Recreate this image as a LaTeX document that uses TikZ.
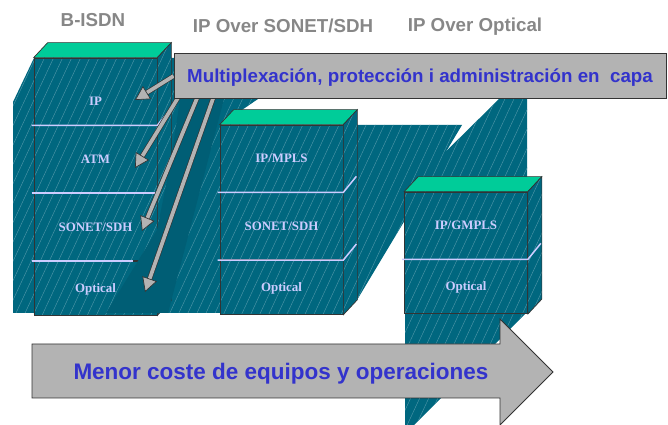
\documentclass[tikz,border=0pt]{standalone}
\usepackage{fontspec}
\setmainfont{Liberation Serif}
\newfontfamily\arialfont{Liberation Sans}
\usepackage{tikz}
\usetikzlibrary{arrows.meta, positioning, calc, patterns.meta}
\definecolor{StackTeal}{HTML}{00677F}
\definecolor{ShadeTeal}{HTML}{005E75}
\definecolor{StripeTeal}{HTML}{5298AA}
\definecolor{TopGreen}{HTML}{00CC99}
\definecolor{Lavender}{HTML}{CCCCFF}
\definecolor{BoxGray}{HTML}{B3B3B3}
\definecolor{EdgeGray}{HTML}{333333}
\definecolor{TitleGray}{HTML}{878787}
\definecolor{TextBlue}{HTML}{3333CC}
\tikzset{
  hatched/.style={preaction={fill=StackTeal}, pattern={Lines[angle=65, distance=7pt, line width=0.35pt]}, pattern color=StripeTeal},
  layerbox/.style={rectangle, hatched, draw=EdgeGray, line width=0.6pt, minimum width=36.9mm, minimum height=20.1mm, inner sep=0pt, text=Lavender, font=\bfseries\fontsize{11}{12}\selectfont, text height=7.3pt, text depth=0pt},
  opticalbox/.style={layerbox, minimum height=16.2mm},
  topface/.style={fill=TopGreen, draw=EdgeGray, line width=0.6pt},
  sideface/.style={hatched, draw=EdgeGray, line width=0.6pt},
  divider/.style={draw=Lavender, line width=1.3pt},
  banner/.style={rectangle, draw=EdgeGray, line width=0.7pt, fill=BoxGray, minimum width=147.6mm, minimum height=13.5mm, text=TextBlue, font=\arialfont\bfseries\fontsize{16}{19}\selectfont, text height=11.5pt, text depth=0pt},
  pointer/.style={draw=EdgeGray, double=BoxGray, double distance=3.2pt, line width=0.55pt, -{Triangle[length=12pt, width=13pt, fill=BoxGray]}},
  bigarrow/.style={fill=BoxGray, draw=EdgeGray, line width=0.7pt},
  costtext/.style={text=TextBlue, font=\arialfont\bfseries\fontsize{19.2}{23}\selectfont, text height=13.8pt, text depth=0pt, inner sep=0pt},
  title/.style={text=TitleGray, font=\arialfont\bfseries\fontsize{16}{19}\selectfont, anchor=base, inner sep=0pt}
}
\begin{document}
\begin{tikzpicture}[x=0.3mm, y=-0.3mm]
  \useasboundingbox (0,0) rectangle (668,425);

  % teal bands behind the stacks
  \path[hatched] (13,313) -- (13,102) -- (34,58) -- (175,58) -- (175,99) -- (258,99) -- (220,125) -- (220,313) -- cycle;
  \path[hatched] (357,125) -- (462,125) -- (357,300) -- cycle;
  \path[hatched] (499,99) -- (527,99) -- (527,312) -- (414,425) -- (405,425) -- (405,192) -- (420,177) -- cycle;

  % B-ISDN stack
  \node[layerbox] (ip1) at (95.5,91.5) {\raisebox{-3mm}{IP}};
  \node[layerbox, below=0pt of ip1] (atm1) {ATM};
  \node[layerbox, below=0pt of atm1] (sdh1) {SONET/SDH};
  \node[opticalbox, below=0pt of sdh1] (opt1) {Optical};

  % IP over SONET/SDH stack
  \node[layerbox] (mpls2) at (281.5,158.5) {IP/MPLS};
  \node[layerbox, below=0pt of mpls2] (sdh2) {SONET/SDH};
  \node[opticalbox, below=0pt of sdh2] (opt2) {Optical};

  % IP over optical stack
  \node[layerbox] (gmpls3) at (466,225.5) {IP/GMPLS};
  \node[opticalbox, below=0pt of gmpls3] (opt3) {Optical};

  \foreach \t/\b in {ip1/opt1, mpls2/opt2, gmpls3/opt3} {
    \draw[topface] (\t.north west) -- ++(14,-15) -- ($(\t.north east)+(14,-15)$) -- (\t.north east) -- cycle;
    \draw[sideface] (\t.north east) -- ++(14,-15) -- ($(\b.south east)+(14,-15)$) -- (\b.south east) -- cycle;
  }

  % layer borders
  \draw[divider] ($(ip1.south west)+(-2,0)$) -- (ip1.south east) -- ++(12,-15);
  \draw[divider] ($(atm1.south west)+(-2,0)$) -- (atm1.south east);
  \draw[divider] ($(sdh1.south west)+(-2,0)$) -- ($(sdh1.south east)+(-24,0)$);
  \foreach \n in {mpls2, sdh2, gmpls3}
    \draw[divider] ($(\n.south west)+(-2,0)$) -- (\n.south east) -- ++(13,-16);

  % shadow under the pointers
  \fill[ShadeTeal] (106,313) -- (157,230) -- (171,160) -- (180,99) -- (224,99) -- (168,313) -- cycle;

  \coordinate (pIP) at (135,100);
  \coordinate (pATM) at (135,168);
  \coordinate (pSDH) at (142,231);
  \coordinate (pOpt) at (145,292);

  \node[banner] (banner) at (420,76) {};
  \draw[pointer] (banner.west) -- (pIP);
  \draw[pointer] ($(banner.south west)+(5,-2)$) -- (pATM);
  \draw[pointer] ($(banner.south west)+(24,-2)$) -- (pSDH);
  \draw[pointer] ($(banner.south west)+(40,-2)$) -- (pOpt);
  \node[banner] at (banner) {Multiplexación, protección i administración en~~capa};

  % cost arrow
  \draw[bigarrow] (32,344) -- (500,344) -- (500,319) -- (553,372) -- (500,425) -- (500,398) -- (32,398) -- cycle;
  \node[costtext] (cost) at (281,371) {Menor coste de equipos y operaciones};

  \node[title] (bisdn) at (93,27) {B-ISDN};
  \node[title] (oversdh) at (283,33) {IP Over SONET/SDH};
  \node[title] (overopt) at (475,32) {IP Over Optical};
\end{tikzpicture}
\end{document}
